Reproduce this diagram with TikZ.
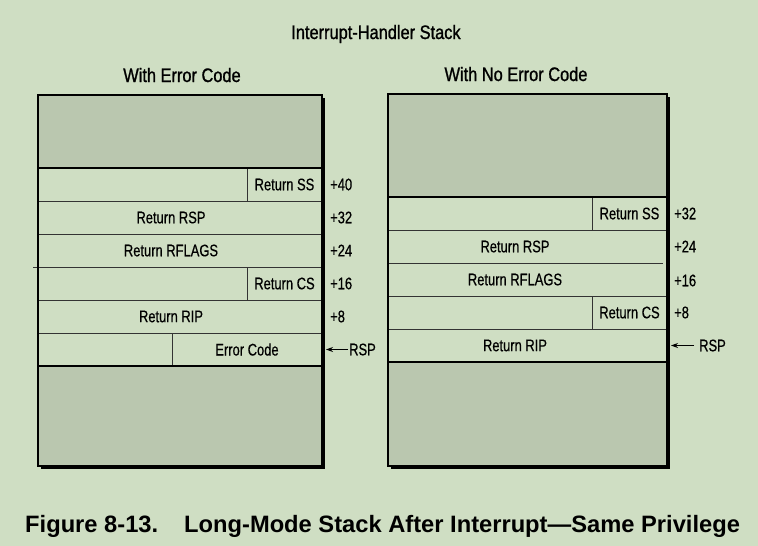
\documentclass[tikz,border=0pt]{standalone}
\usepackage{fontspec}
\setmainfont{Liberation Sans}
\newfontfamily\cellfont{Liberation Sans}[FakeStretch=0.77, FakeBold=0.5]
\newfontfamily\headfont{Liberation Sans}[FakeStretch=0.84, FakeBold=1.1]
\usepackage{xcolor}
\usetikzlibrary{arrows.meta,positioning}
\definecolor{pagebg}{RGB}{207,222,195}
\definecolor{stackgray}{RGB}{186,199,175}

\begin{document}
\begin{tikzpicture}[x=1pt, y=-1pt,
  edge/.style={line width=2pt, line join=miter},
  rowline/.style={line width=0.9pt, draw=black!80},
  lbl/.style={font=\cellfont\fontsize{16.8}{18}\selectfont, inner sep=1pt},
  off/.style={font=\cellfont\fontsize{16.8}{18}\selectfont, inner sep=1pt, anchor=west},
  head/.style={font=\headfont\fontsize{19.5}{22}\selectfont, inner sep=0pt, anchor=base},
  ptr/.style={-{Stealth[length=7pt, width=5pt]}, line width=0.9pt},
]

\path[fill=pagebg, use as bounding box] (0,0) rectangle (758,546);

% --- headings ---
\node[head] (title) at (376,39) {Interrupt-Handler Stack};
\node[head] (hleft) at (182,82) {With Error Code};
\node[head] (hright) at (516,81) {With No Error Code};

% --- left stack: with error code ---
\fill[black] (40.5,97.5) rectangle (324.5,468.5);
\fill[pagebg] (38,168) rectangle (322,366);
\fill[stackgray] (38,95) rectangle (322,168);
\fill[stackgray] (38,366) rectangle (322,466);
\foreach \y in {201,234,300,333}
  \draw[rowline] (38,\y) -- (322,\y);
\draw[rowline] (33,267) -- (322,267);
\draw[rowline] (247,168) -- (247,201) (247,267) -- (247,300) (172,333) -- (172,366);
\draw[edge] (38,95) rectangle (322,466);
\draw[edge] (38,168) -- (322,168) (38,366) -- (322,366);

\node[lbl] (lss) at (284.5,184.5) {Return SS};
\node[lbl] (lrsp) at (171,217.5) {Return RSP};
\node[lbl] (lrfl) at (171,250.5) {Return RFLAGS};
\node[lbl] (lcs) at (284.5,283.5) {Return CS};
\node[lbl] (lrip) at (171,316.5) {Return RIP};
\node[lbl] (lerr) at (247,349.5) {Error Code};

\node[off] (lo40) at (329,184.5) {+40};
\node[off] (lo32) at (329,217.5) {+32};
\node[off] (lo24) at (329,250.5) {+24};
\node[off] (lo16) at (329,283.5) {+16};
\node[off] (lo8) at (329,316.5) {+8};
\node[off] (lrspname) at (348,349.5) {RSP};
\coordinate (ltip) at (326,349.5);
\draw[ptr] (lrspname) -- (ltip);

% --- right stack: with no error code ---
\fill[black] (390.5,96.5) rectangle (669.5,468.5);
\fill[pagebg] (388,197) rectangle (667,362);
\fill[stackgray] (388,94) rectangle (667,197);
\fill[stackgray] (388,362) rectangle (667,466);
\foreach \y in {230,296,329}
  \draw[rowline] (388,\y) -- (667,\y);
\draw[rowline] (388,263) -- (663,263);
\draw[rowline] (592,197) -- (592,230) (592,296) -- (592,329);
\draw[edge] (388,94) rectangle (667,466);
\draw[edge] (388,197) -- (667,197) (388,362) -- (667,362);

\node[lbl] (rss) at (629.5,213.5) {Return SS};
\node[lbl] (rrsp) at (515,246.5) {Return RSP};
\node[lbl] (rrfl) at (515,279.5) {Return RFLAGS};
\node[lbl] (rcs) at (629.5,312.5) {Return CS};
\node[lbl] (rrip) at (515,345.5) {Return RIP};

\node[off] (ro32) at (673,213.5) {+32};
\node[off] (ro24) at (673,246.5) {+24};
\node[off] (ro16) at (673,280.5) {+16};
\node[off] (ro8) at (673,312.5) {+8};
\node[off] (rrspname) at (698,345.5) {RSP};
\coordinate (rtip) at (671,345.5);
\draw[ptr] ([xshift=-4pt]rrspname.west) -- (rtip);

% --- caption ---
\node[font=\bfseries\fontsize{23.7}{26}\selectfont, inner sep=0pt, anchor=base west] (caption) at (25,532)
  {Figure 8-13.\hspace{26pt}Long-Mode Stack After Interrupt---Same Privilege};

\end{tikzpicture}
\end{document}
